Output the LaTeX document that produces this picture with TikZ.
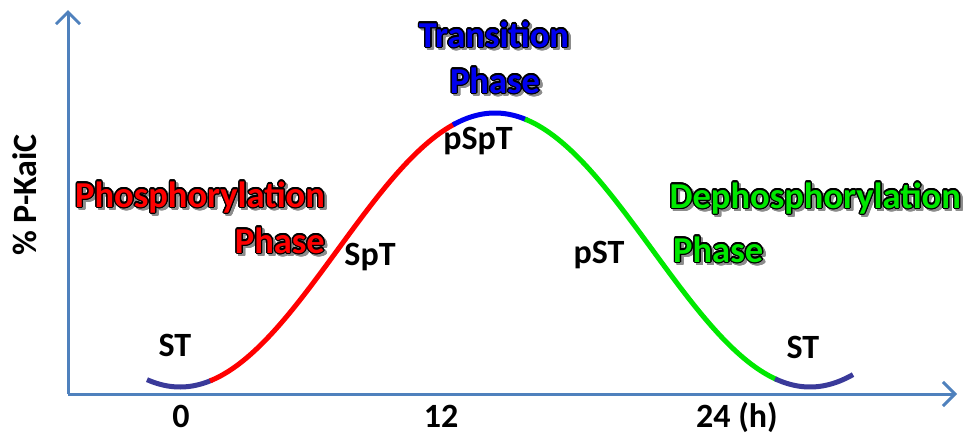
\documentclass[tikz,border=0pt]{standalone}
\usepackage{fontspec}
\setmainfont{Carlito}
\usepackage[copies]{contour}
\usetikzlibrary{arrows.meta}

\definecolor{axisblue}{HTML}{4F81BD}
\definecolor{stblue}{HTML}{3A3A9A}
\definecolor{phred}{HTML}{FF0000}
\definecolor{trblue}{HTML}{0000F0}
\definecolor{dpgreen}{HTML}{00E800}
\definecolor{shadowgray}{HTML}{8C8C8C}

\contourlength{1.3pt}
% outlined phase text with a soft drop shadow
\newcommand{\phasetext}[2]{%
  \rlap{\hspace{2.5pt}\raisebox{-2.5pt}{\contour{shadowgray}{\textcolor{shadowgray}{#2}}}}%
  \contour{black}{\textcolor{#1}{#2}}}

\tikzset{
  axis/.style={axisblue, line width=3pt, -{Straight Barb[length=12pt, width=24pt, line width=3pt]}},
  curve/.style={line width=5pt, domain=#1, samples=40, smooth},
  lbl/.style={font=\fontsize{34}{36}\selectfont\bfseries, inner sep=0pt},
  phaselbl/.style={font=\fontsize{36.5}{38}\selectfont\bfseries, inner sep=0pt}
}

% one period of the phosphorylation cycle (630 units long), 1pt = 1px
\newcommand{\kaic}[1]{{387-137*(1-cos((#1-180)*4/7))}}

\begin{document}
\begin{tikzpicture}[x=1pt, y=-1pt]
    \useasboundingbox (0, 0) rectangle (967, 434);

    % Axes
    \coordinate (origin) at (68, 394);
    \draw[axis] (origin) -- (957, 394) coordinate (xend);
    \draw[axis] (origin) -- (68, 10) coordinate (yend);
    \node[lbl, rotate=90] (ylabel) at (25, 195) {\% P-KaiC};

    % Time labels
    \node[lbl, anchor=base] (t0) at (181, 427) {0};
    \node[lbl, anchor=base] (t12) at (441, 427) {12};
    \node[lbl, anchor=base] (t24) at (737, 427) {24 (h)};

    % Cycle, coloured by phase
    \draw[stblue, curve=147:212] plot (\x, \kaic{\x});
    \draw[phred, curve=210:455] plot (\x, \kaic{\x});
    \draw[trblue, curve=453:527] plot (\x, \kaic{\x});
    \draw[dpgreen, curve=525:777] plot (\x, \kaic{\x});
    \draw[stblue, curve=775:853] plot (\x, \kaic{\x});

    % Phosphoforms
    \node[lbl, anchor=base] (stleft) at (175, 356) {ST};
    \node[lbl, anchor=base] (spt) at (370, 265) {SpT};
    \node[lbl, anchor=base] (pspt) at (478, 149) {pSpT};
    \node[lbl, anchor=base] (pst) at (599, 263) {pST};
    \node[lbl, anchor=base] (stright) at (803, 358) {ST};

    % Phases
    \node[phaselbl, anchor=base] (trans) at (494, 47) {\phasetext{trblue}{Transition}};
    \node[phaselbl, anchor=base] (transph) at (495, 93) {\phasetext{trblue}{Phase}};
    \node[phaselbl, anchor=base east] (phos) at (325, 207) {\phasetext{phred}{Phosphorylation}};
    \node[phaselbl, anchor=base east] (phosph) at (325, 253) {\phasetext{phred}{Phase}};
    \node[phaselbl, anchor=base east] (dephos) at (961, 208) {\phasetext{dpgreen}{Dephosphorylation}};
    \node[phaselbl, anchor=base west] (dephosph) at (673, 262) {\phasetext{dpgreen}{Phase}};
\end{tikzpicture}
\end{document}
